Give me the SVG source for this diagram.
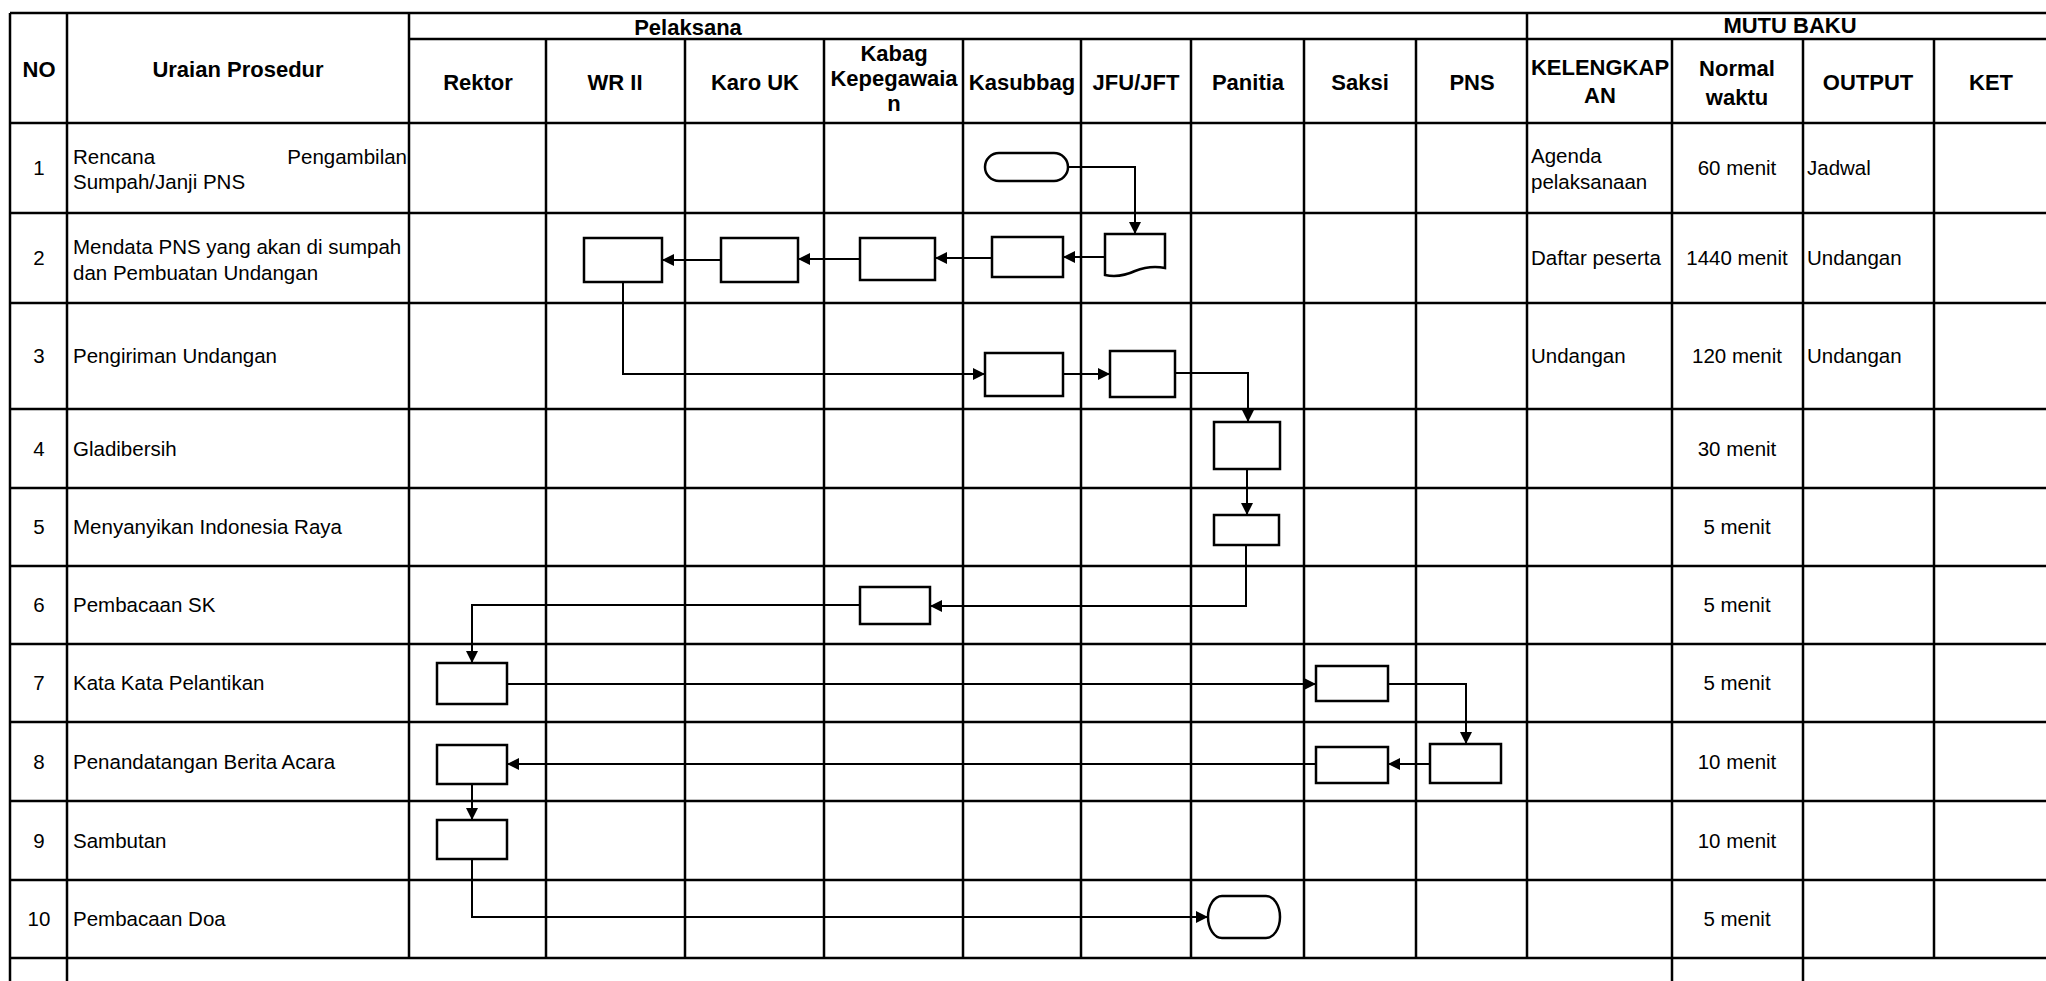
<svg xmlns="http://www.w3.org/2000/svg" width="2046" height="981" viewBox="0 0 2046 981">
<defs>
<marker id="ah" markerUnits="userSpaceOnUse" markerWidth="14" markerHeight="12" refX="12" refY="6" orient="auto">
<path d="M0,0 L12,6 L0,12 Z" fill="#000"/>
</marker>
<style>
.grid line{stroke:#000;stroke-width:2.5}
.hd{font-family:"Liberation Sans",Arial,sans-serif;font-weight:bold;font-size:22px;fill:#000}
.tx{font-family:"Liberation Sans",Arial,sans-serif;font-size:20.5px;fill:#000}
.c{text-anchor:middle}
.e{text-anchor:end}
.box{fill:#fff;stroke:#000;stroke-width:2.5}
.cn{fill:none;stroke:#000;stroke-width:2}
.ar{marker-end:url(#ah)}
</style>
</defs>
<rect width="2046" height="981" fill="#fff"/>
<g id="table" class="grid">
<line x1="10" y1="13" x2="2046" y2="13"/>
<line x1="409" y1="39" x2="2046" y2="39"/>
<line x1="10" y1="123" x2="2046" y2="123"/>
<line x1="10" y1="213" x2="2046" y2="213"/>
<line x1="10" y1="303" x2="2046" y2="303"/>
<line x1="10" y1="409" x2="2046" y2="409"/>
<line x1="10" y1="488" x2="2046" y2="488"/>
<line x1="10" y1="566" x2="2046" y2="566"/>
<line x1="10" y1="644" x2="2046" y2="644"/>
<line x1="10" y1="722" x2="2046" y2="722"/>
<line x1="10" y1="801" x2="2046" y2="801"/>
<line x1="10" y1="880" x2="2046" y2="880"/>
<line x1="10" y1="958" x2="2046" y2="958"/>
<line x1="10" y1="13" x2="10" y2="981"/>
<line x1="67" y1="13" x2="67" y2="981"/>
<line x1="409" y1="13" x2="409" y2="958"/>
<line x1="1527" y1="13" x2="1527" y2="958"/>
<line x1="546" y1="39" x2="546" y2="958"/>
<line x1="685" y1="39" x2="685" y2="958"/>
<line x1="824" y1="39" x2="824" y2="958"/>
<line x1="963" y1="39" x2="963" y2="958"/>
<line x1="1081" y1="39" x2="1081" y2="958"/>
<line x1="1191" y1="39" x2="1191" y2="958"/>
<line x1="1304" y1="39" x2="1304" y2="958"/>
<line x1="1416" y1="39" x2="1416" y2="958"/>
<line x1="1672" y1="39" x2="1672" y2="981"/>
<line x1="1803" y1="39" x2="1803" y2="981"/>
<line x1="1934" y1="39" x2="1934" y2="958"/>
</g>
<g id="headers">
<text class="hd c" x="39" y="77">NO</text>
<text class="hd c" x="238" y="77">Uraian Prosedur</text>
<text class="hd c" x="688" y="35">Pelaksana</text>
<text class="hd c" x="1790" y="33">MUTU BAKU</text>
<text class="hd c" x="478" y="90">Rektor</text>
<text class="hd c" x="615" y="90">WR II</text>
<text class="hd c" x="755" y="90">Karo UK</text>
<text class="hd c" x="894" y="61">Kabag</text>
<text class="hd c" x="894" y="86">Kepegawaia</text>
<text class="hd c" x="894" y="111">n</text>
<text class="hd c" x="1022" y="90">Kasubbag</text>
<text class="hd c" x="1136" y="90">JFU/JFT</text>
<text class="hd c" x="1248" y="90">Panitia</text>
<text class="hd c" x="1360" y="90">Saksi</text>
<text class="hd c" x="1472" y="90">PNS</text>
<text class="hd c" x="1600" y="75">KELENGKAP</text>
<text class="hd c" x="1600" y="103">AN</text>
<text class="hd c" x="1737" y="76">Normal</text>
<text class="hd c" x="1737" y="105">waktu</text>
<text class="hd c" x="1868" y="90">OUTPUT</text>
<text class="hd c" x="1991" y="90">KET</text>
</g>
<g id="rows">
<text class="tx c" x="39" y="175">1</text>
<text class="tx" x="73" y="164">Rencana</text>
<text class="tx e" x="407" y="164">Pengambilan</text>
<text class="tx" x="73" y="189">Sumpah/Janji PNS</text>
<text class="tx" x="1531" y="163">Agenda</text>
<text class="tx" x="1531" y="189">pelaksanaan</text>
<text class="tx c" x="1737" y="175">60 menit</text>
<text class="tx" x="1807" y="175">Jadwal</text>

<text class="tx c" x="39" y="265">2</text>
<text class="tx" x="73" y="254">Mendata PNS yang akan di sumpah</text>
<text class="tx" x="73" y="280">dan Pembuatan Undangan</text>
<text class="tx" x="1531" y="265">Daftar peserta</text>
<text class="tx c" x="1737" y="265">1440 menit</text>
<text class="tx" x="1807" y="265">Undangan</text>

<text class="tx c" x="39" y="363">3</text>
<text class="tx" x="73" y="363">Pengiriman Undangan</text>
<text class="tx" x="1531" y="363">Undangan</text>
<text class="tx c" x="1737" y="363">120 menit</text>
<text class="tx" x="1807" y="363">Undangan</text>

<text class="tx c" x="39" y="456">4</text>
<text class="tx" x="73" y="456">Gladibersih</text>
<text class="tx c" x="1737" y="456">30 menit</text>

<text class="tx c" x="39" y="534">5</text>
<text class="tx" x="73" y="534">Menyanyikan Indonesia Raya</text>
<text class="tx c" x="1737" y="534">5 menit</text>

<text class="tx c" x="39" y="612">6</text>
<text class="tx" x="73" y="612">Pembacaan SK</text>
<text class="tx c" x="1737" y="612">5 menit</text>

<text class="tx c" x="39" y="690">7</text>
<text class="tx" x="73" y="690">Kata Kata Pelantikan</text>
<text class="tx c" x="1737" y="690">5 menit</text>

<text class="tx c" x="39" y="769">8</text>
<text class="tx" x="73" y="769">Penandatangan Berita Acara</text>
<text class="tx c" x="1737" y="769">10 menit</text>

<text class="tx c" x="39" y="848">9</text>
<text class="tx" x="73" y="848">Sambutan</text>
<text class="tx c" x="1737" y="848">10 menit</text>

<text class="tx c" x="39" y="926">10</text>
<text class="tx" x="73" y="926">Pembacaan Doa</text>
<text class="tx c" x="1737" y="926">5 menit</text>
</g>
<g id="connectors">
<polyline class="cn ar" points="1068,167 1135,167 1135,234"/>
<line class="cn ar" x1="1105" y1="257" x2="1063" y2="257"/>
<line class="cn ar" x1="992" y1="258" x2="935" y2="258"/>
<line class="cn ar" x1="860" y1="259" x2="798" y2="259"/>
<line class="cn ar" x1="721" y1="260" x2="662" y2="260"/>
<polyline class="cn ar" points="623,282 623,374 985,374"/>
<line class="cn ar" x1="1063" y1="374" x2="1110" y2="374"/>
<polyline class="cn ar" points="1175,373 1248,373 1248,422"/>
<line class="cn ar" x1="1247" y1="469" x2="1247" y2="515"/>
<polyline class="cn ar" points="1246,545 1246,606 930,606"/>
<polyline class="cn ar" points="860,605 472,605 472,663"/>
<line class="cn ar" x1="507" y1="684" x2="1316" y2="684"/>
<polyline class="cn ar" points="1388,684 1466,684 1466,744"/>
<line class="cn ar" x1="1430" y1="764" x2="1388" y2="764"/>
<line class="cn ar" x1="1316" y1="764" x2="507" y2="764"/>
<line class="cn ar" x1="472" y1="784" x2="472" y2="820"/>
<polyline class="cn ar" points="472,859 472,917 1208,917"/>
</g>
<g id="n1-start"><rect class="box" x="985" y="153" width="83" height="28" rx="14" ry="14"/></g>
<g id="n2-doc"><path class="box" d="M1105,234 H1165 V268 Q1150,265 1135,271 Q1120,278 1105,275 Z"/></g>
<g id="n2-kasubbag"><rect class="box" x="992" y="237" width="71" height="40"/></g>
<g id="n2-kabag"><rect class="box" x="860" y="238" width="75" height="42"/></g>
<g id="n2-karo"><rect class="box" x="721" y="238" width="77" height="44"/></g>
<g id="n2-wr2"><rect class="box" x="584" y="238" width="78" height="44"/></g>
<g id="n3-kasubbag"><rect class="box" x="985" y="353" width="78" height="43"/></g>
<g id="n3-jfu"><rect class="box" x="1110" y="351" width="65" height="46"/></g>
<g id="n4-panitia"><rect class="box" x="1214" y="422" width="66" height="47"/></g>
<g id="n5-panitia"><rect class="box" x="1214" y="515" width="65" height="30"/></g>
<g id="n6-kabag"><rect class="box" x="860" y="587" width="70" height="37"/></g>
<g id="n7-rektor"><rect class="box" x="437" y="663" width="70" height="41"/></g>
<g id="n7-saksi"><rect class="box" x="1316" y="666" width="72" height="35"/></g>
<g id="n8-pns"><rect class="box" x="1430" y="744" width="71" height="39"/></g>
<g id="n8-saksi"><rect class="box" x="1316" y="747" width="72" height="36"/></g>
<g id="n8-rektor"><rect class="box" x="437" y="745" width="70" height="39"/></g>
<g id="n9-rektor"><rect class="box" x="437" y="820" width="70" height="39"/></g>
<g id="n10-end"><rect class="box" x="1208" y="896" width="72" height="42" rx="14" ry="21"/></g>
</svg>
